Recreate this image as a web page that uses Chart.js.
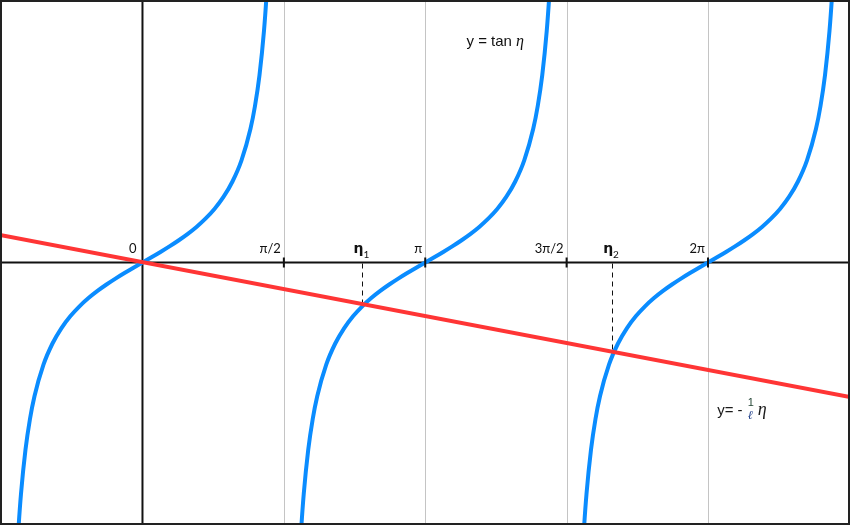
<!DOCTYPE html>
<html>
<head>
<meta charset="utf-8">
<script src="https://cdn.jsdelivr.net/npm/chart.js@4"></script>
<style>
  html, body { margin: 0; padding: 0; background: #ffffff; }
  #wrap { width: 850px; height: 525px; position: relative; }
  canvas { display: block; }
</style>
</head>
<body>
<div id="wrap"><canvas id="c" width="850" height="525"></canvas></div>
<script>
// ---- data ----
const tanY = [-6.030,-5.384,-4.633,-3.746,-3.130,-2.675,-2.043,-1.620,-1.311,-1.071,-0.876,-0.711,-0.568,-0.440,-0.322,-0.211,-0.104,0,0.104,0.211,0.322,0.440,0.568,0.711,0.876,1.071,1.311,1.620,2.043,2.675,3.130,3.746,4.633,5.384,6.030];
const branch1X = [-1.40,-1.38,-1.35,-1.30,-1.25,-1.20,-1.10,-1.00,-0.90,-0.80,-0.70,-0.60,-0.50,-0.40,-0.30,-0.20,-0.10,0,0.10,0.20,0.30,0.40,0.50,0.60,0.70,0.80,0.90,1.00,1.10,1.20,1.25,1.30,1.35,1.38,1.40];
const branch2X = [1.7416,1.7616,1.7916,1.8416,1.8916,1.9416,2.0416,2.1416,2.2416,2.3416,2.4416,2.5416,2.6416,2.7416,2.8416,2.9416,3.0416,3.1416,3.2416,3.3416,3.4416,3.5416,3.6416,3.7416,3.8416,3.9416,4.0416,4.1416,4.2416,4.3416,4.3916,4.4416,4.4916,4.5216,4.5416];
const branch3X = [4.8832,4.9032,4.9332,4.9832,5.0332,5.0832,5.1832,5.2832,5.3832,5.4832,5.5832,5.6832,5.7832,5.8832,5.9832,6.0832,6.1832,6.2832,6.3832,6.4832,6.5832,6.6832,6.7832,6.8832,6.9832,7.0832,7.1832,7.2832,7.3832,7.4832,7.5332,7.5832,7.6332,7.6632,7.6832];
const lineX = [-1.583, 7.861];
const lineY = [0.55, -2.69];
const rootX = [2.444, 5.217];
const rootY = [-0.86, -1.78];
const rootLabels = ['1', '2'];
const tickValues = [0, 1.5708, 3.1416, 4.7124, 6.2832];
const tickLabels = ['0', 'π/2', 'π', '3π/2', '2π'];
const xRange = [-1.583, 7.861];
const yRange = [-5.25, 5.25];

function pts(xs, ys) { return xs.map((v, i) => ({ x: v, y: ys[i] })); }

const BLUE = '#0a8cff';
const RED = '#ff3535';

const decor = {
  id: 'decor',
  beforeDatasetsDraw(chart) {
    const { ctx, chartArea: a, scales: { x, y } } = chart;
    ctx.save();
    ctx.strokeStyle = '#c4c4c4';
    ctx.lineWidth = 1;
    tickValues.slice(1).forEach(v => {
      const px = Math.round(x.getPixelForValue(v)) + 0.5;
      ctx.beginPath(); ctx.moveTo(px, a.top); ctx.lineTo(px, a.bottom); ctx.stroke();
    });
    const x0 = x.getPixelForValue(0), y0 = y.getPixelForValue(0);
    ctx.strokeStyle = '#111';
    ctx.lineWidth = 2;
    ctx.beginPath(); ctx.moveTo(a.left, y0); ctx.lineTo(a.right, y0); ctx.stroke();
    ctx.beginPath(); ctx.moveTo(x0, a.top); ctx.lineTo(x0, a.bottom); ctx.stroke();
    ctx.lineWidth = 1;
    ctx.setLineDash([5, 4]);
    rootX.forEach((v, i) => {
      const px = Math.round(x.getPixelForValue(v)) + 0.5;
      ctx.beginPath(); ctx.moveTo(px, y0 + 1); ctx.lineTo(px, y.getPixelForValue(rootY[i])); ctx.stroke();
    });
    ctx.setLineDash([]);
    ctx.restore();
  },
  afterDatasetsDraw(chart) {
    const { ctx, scales: { x, y } } = chart;
    const y0 = y.getPixelForValue(0);
    ctx.save();
    ctx.strokeStyle = '#111';
    ctx.lineWidth = 2;
    tickValues.slice(1).forEach(v => {
      const px = x.getPixelForValue(v);
      ctx.beginPath(); ctx.moveTo(px, y0 - 5); ctx.lineTo(px, y0 + 5); ctx.stroke();
    });
    ctx.fillStyle = '#111';
    ctx.font = '13px Lato, "Liberation Sans", sans-serif';
    ctx.textAlign = 'right';
    ctx.textBaseline = 'alphabetic';
    tickValues.forEach((v, i) => {
      const px = x.getPixelForValue(v);
      ctx.fillText(tickLabels[i], px - (i === 0 ? 6 : 3), y0 - 10);
    });
    rootX.forEach((v, i) => {
      const px = x.getPixelForValue(v);
      ctx.textAlign = 'left';
      ctx.font = 'bold 14px "DejaVu Sans", sans-serif';
      const w = ctx.measureText('η').width;
      ctx.font = '10px Lato, "Liberation Sans", sans-serif';
      const ws = ctx.measureText(rootLabels[i]).width;
      const start = px - (w + ws) / 2 - 1;
      ctx.font = 'bold 14px "DejaVu Sans", sans-serif';
      ctx.fillText('η', start, y0 - 10);
      ctx.font = '10px Lato, "Liberation Sans", sans-serif';
      ctx.fillText(rootLabels[i], start + w, y0 - 5);
    });
    ctx.textAlign = 'left';
    ctx.font = '15px "Liberation Sans", Arial, sans-serif';
    const tx = x.getPixelForValue(3.6), ty = y.getPixelForValue(4.33);
    ctx.fillText('y = tan ', tx, ty);
    const tw = ctx.measureText('y = tan ').width;
    ctx.font = 'italic 16px "Liberation Serif", serif';
    ctx.fillText('η', tx + tw, ty);

    const lx = x.getPixelForValue(6.385), ly = y.getPixelForValue(-3.05);
    ctx.font = '15px "Liberation Sans", Arial, sans-serif';
    ctx.fillStyle = '#1a1a1a';
    ctx.fillText('y= -', lx, ly);
    const lw = ctx.measureText('y= - ').width;
    ctx.font = '11px "Liberation Sans", Arial, sans-serif';
    ctx.fillStyle = '#1d3f2e';
    ctx.fillText('1', lx + lw + 1, ly - 9);
    ctx.font = 'italic 12px "Liberation Serif", serif';
    ctx.fillStyle = '#1f3f8a';
    ctx.fillText('ℓ', lx + lw + 1, ly + 4);
    ctx.font = 'italic 18px "Liberation Serif", serif';
    ctx.fillStyle = '#1a1a1a';
    ctx.fillText('η', lx + lw + 11, ly);

    ctx.strokeStyle = '#222';
    ctx.lineWidth = 2;
    ctx.strokeRect(1, 1, chart.width - 2, chart.height - 2);
    ctx.restore();
  }
};

const lineDs = (data, color) => ({
  data, borderColor: color, backgroundColor: color, borderWidth: 4,
  showLine: true, pointRadius: 0, fill: false, cubicInterpolationMode: 'monotone'
});

new Chart(document.getElementById('c'), {
  type: 'scatter',
  data: {
    datasets: [
      lineDs(pts(lineX, lineY), RED),
      lineDs(pts(branch1X, tanY), BLUE),
      lineDs(pts(branch2X, tanY), BLUE),
      lineDs(pts(branch3X, tanY), BLUE)
    ]
  },
  options: {
    responsive: false,
    animation: false,
    devicePixelRatio: 1,
    layout: { padding: 0 },
    plugins: { legend: { display: false }, tooltip: { enabled: false } },
    scales: {
      x: { type: 'linear', min: xRange[0], max: xRange[1], display: false },
      y: { type: 'linear', min: yRange[0], max: yRange[1], display: false }
    }
  },
  plugins: [decor]
});
</script>
</body>
</html>
